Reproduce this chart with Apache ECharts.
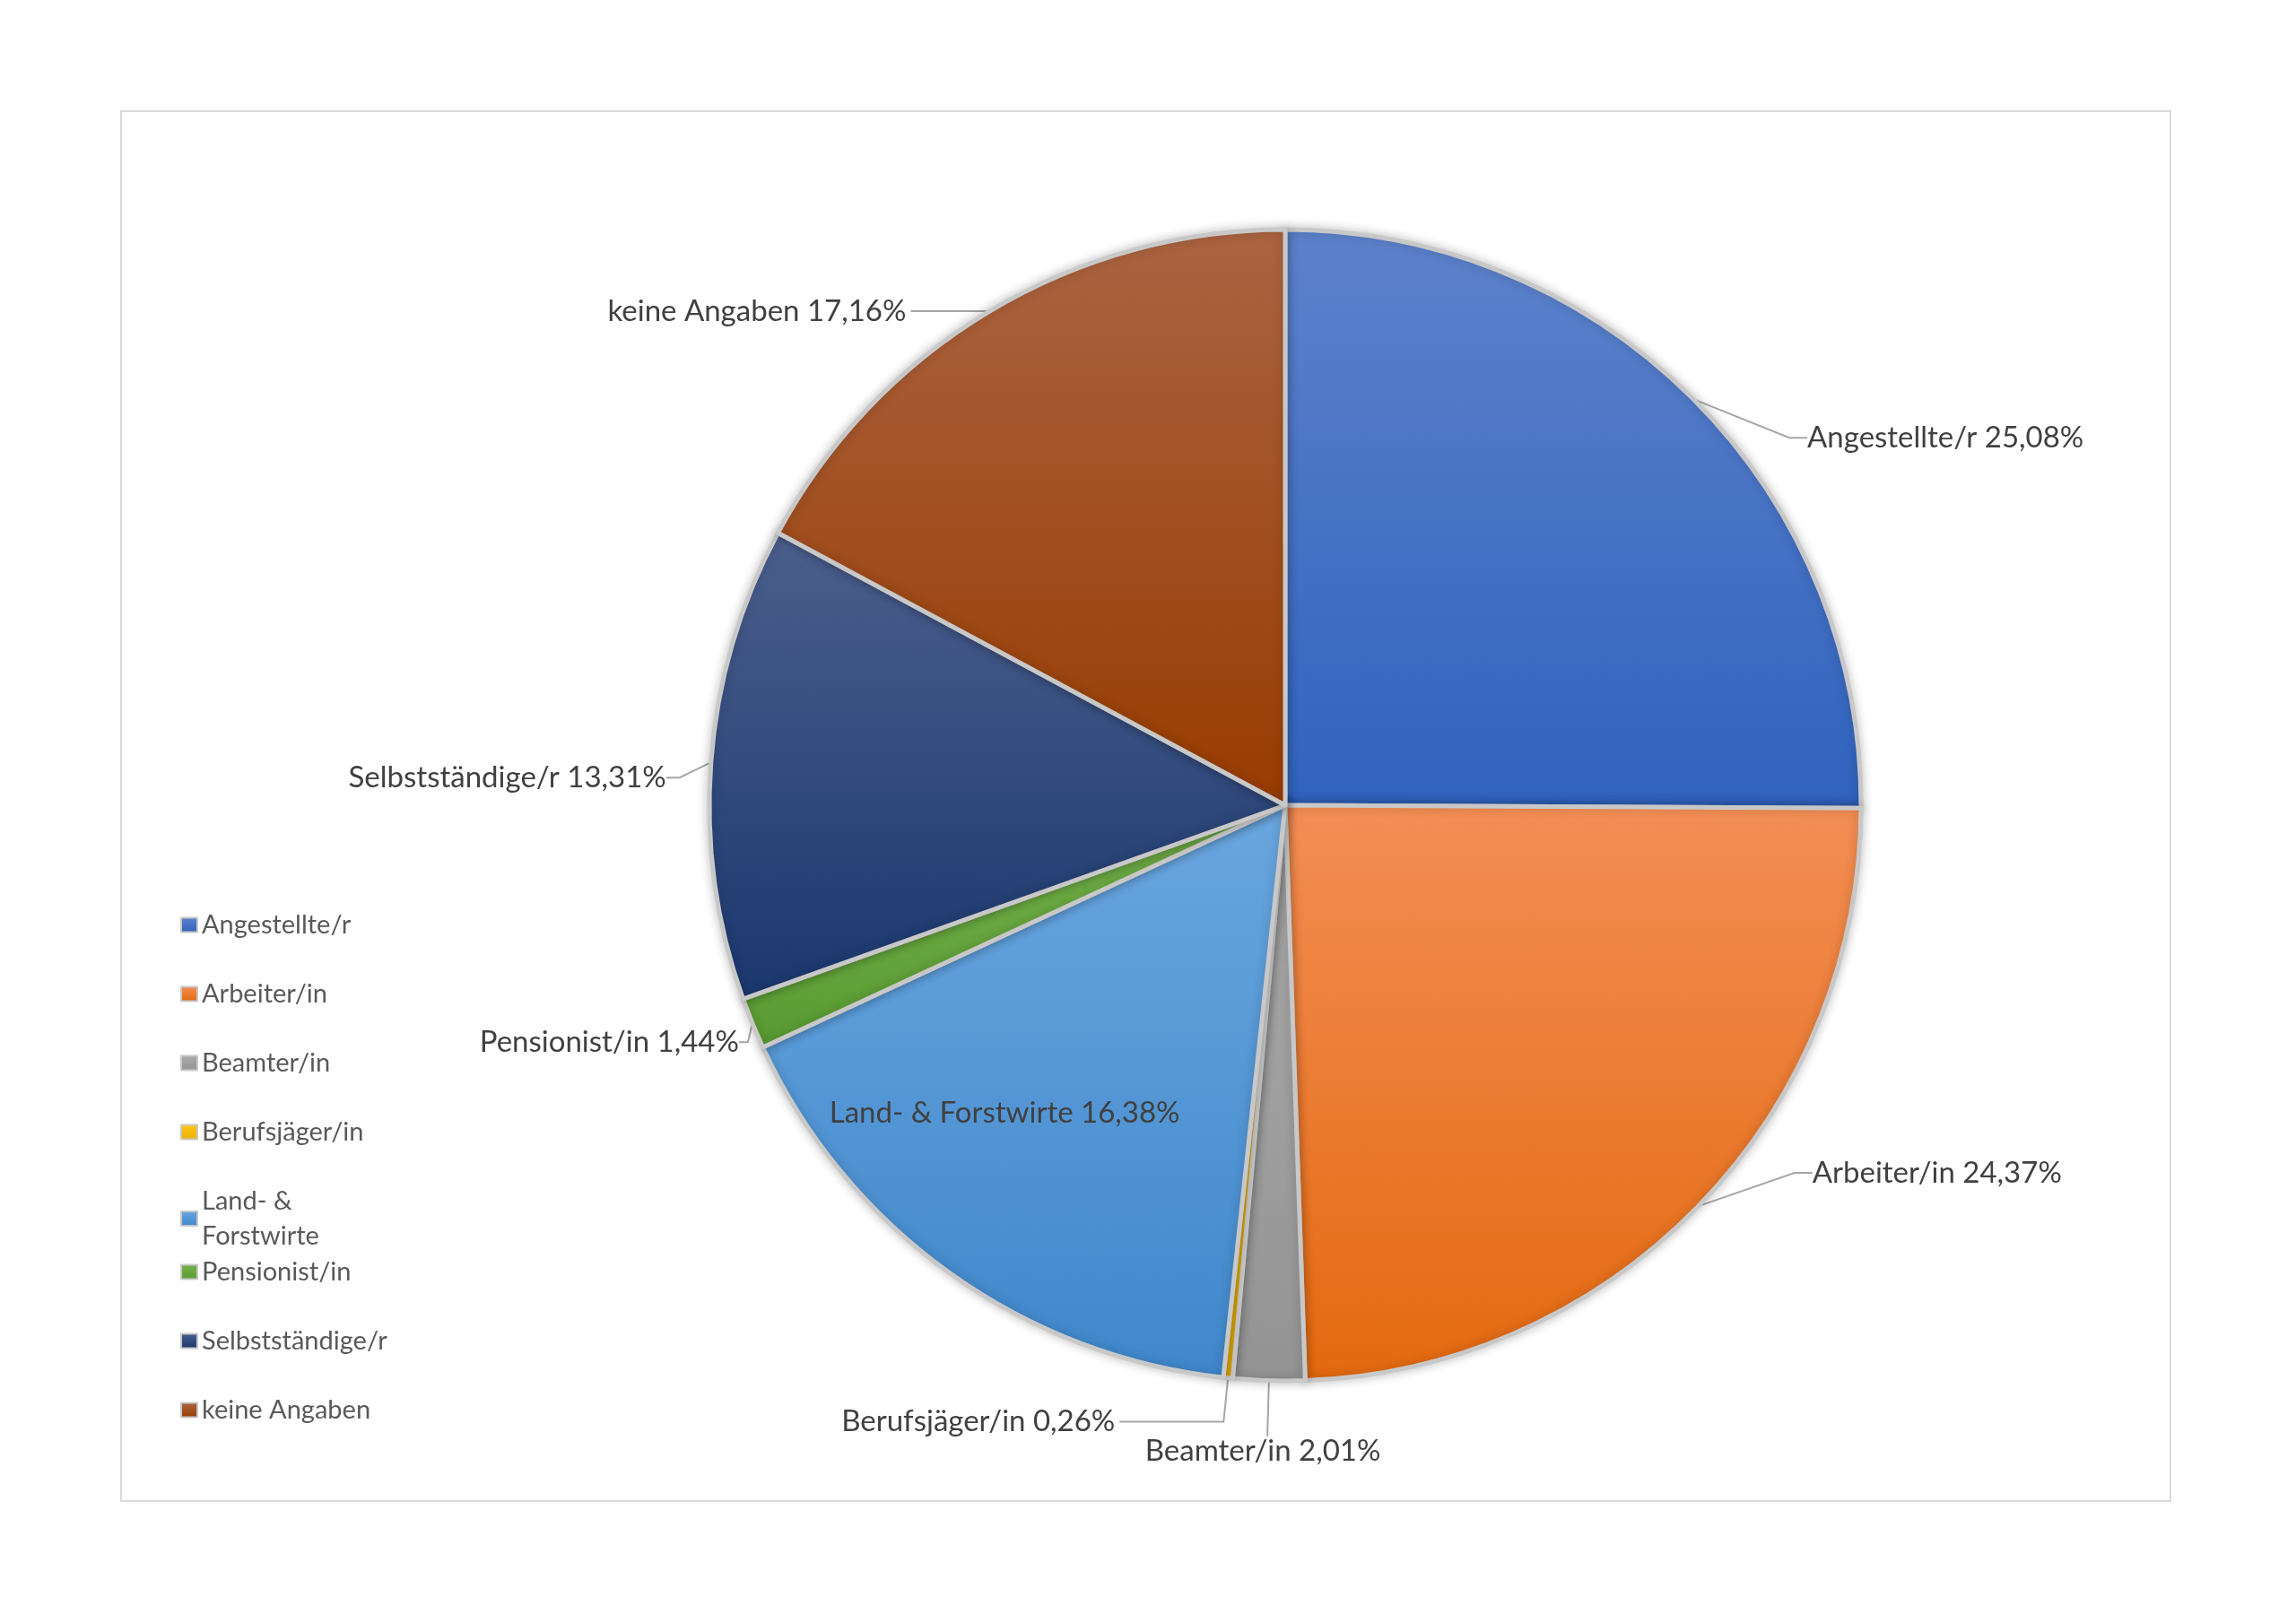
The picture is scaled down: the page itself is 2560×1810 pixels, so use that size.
<!DOCTYPE html>
<html>
<head>
<meta charset="utf-8">
<script src="https://cdn.jsdelivr.net/npm/echarts@6/dist/echarts.min.js"></script>
<style>html,body{margin:0;padding:0;background:#fff}#c{width:2560px;height:1810px}</style>
</head>
<body>
<div id="c"></div>
<script>
// ---- data ----
const categories = ['Angestellte/r', 'Arbeiter/in', 'Beamter/in', 'Berufsjäger/in', 'Land- & Forstwirte', 'Pensionist/in', 'Selbstständige/r', 'keine Angaben'];
const shares = [25.08, 24.37, 2.01, 0.26, 16.38, 1.44, 13.31, 17.16];

// ---- styles ----
const colorTop    = ['#5d82cb', '#f38e55', '#ababab', '#ffc61a', '#6aa6df', '#76b34c', '#4c5f8d', '#ab6442'];
const colorBottom = ['#2f62be', '#e4690f', '#939393', '#eab000', '#3f87cb', '#589a31', '#1a376e', '#983b00'];
const FONT = 'Lato, "Open Sans", sans-serif';

// label placement tweaks (leader line lengths and small offsets)
const labelPlace = {
  'Angestellte/r':      { len: 0,  len2: 20,  dx: 102, dy: 43 },
  'Arbeiter/in':        { len: 0,  len2: 20,  dx: 102, dy: -37 },
  'Beamter/in':         { len: 62, len2: 0,   align: 'center', valign: 'top' },
  'Berufsjäger/in':     { len: 49, len2: 116 },
  'Land- & Forstwirte': { inside: true, dx: -124, dy: 80 },
  'Pensionist/in':      { len: 0,  len2: 10,  dx: 0, dy: 21 },
  'Selbstständige/r':   { len: 0,  len2: 15,  dx: -30, dy: 17 },
  'keine Angaben':      { len: 0,  len2: 88 }
};

function fmt(v) { return v.toFixed(2).replace('.', ','); }
function grad(i) {
  return new echarts.graphic.LinearGradient(0, 0, 0, 1, [
    { offset: 0, color: colorTop[i] },
    { offset: 1, color: colorBottom[i] }
  ]);
}

const pieData = categories.map((name, i) => {
  const p = labelPlace[name];
  const item = { name: name, value: shares[i], itemStyle: { color: grad(i) } };
  if (p.inside) {
    item.label = { position: 'inside' };
    item.labelLine = { show: false };
  } else {
    item.labelLine = { length: p.len, length2: p.len2 };
  }
  return item;
});

const legendBase = {
  orient: 'vertical',
  left: 196,
  itemWidth: 18, itemHeight: 16, itemGap: 38,
  icon: 'rect',
  formatter: n => n.replace('& ', '&\n'),
  textStyle: { fontFamily: FONT, fontSize: 29, color: '#595959', lineHeight: 39 }
};

const chart = echarts.init(document.getElementById('c'), null, { renderer: 'canvas' });
chart.setOption({
  animation: false,
  backgroundColor: '#ffffff',
  graphic: [{
    type: 'rect', z: -10,
    shape: { x: 135, y: 124, width: 2285, height: 1550 },
    style: { fill: 'none', stroke: '#d9d9d9', lineWidth: 2 }
  }],
  legend: [
    Object.assign({}, legendBase, { top: 1007, data: categories.slice(0, 5) }),
    Object.assign({}, legendBase, { top: 1394, data: categories.slice(5) })
  ],
  series: [{
    type: 'pie',
    center: [1433, 898],
    radius: 642,
    startAngle: 90,
    clockwise: true,
    avoidLabelOverlap: false,
    emphasis: { disabled: true },
    itemStyle: {
      borderColor: '#c8c8c8', borderWidth: 5,
      shadowBlur: 12, shadowColor: 'rgba(0,0,0,0.22)'
    },
    label: {
      show: true,
      formatter: p => p.name + ' ' + fmt(p.value) + '%',
      fontFamily: FONT, fontSize: 33, color: '#404040',
      overflow: 'none', distanceToLabelLine: 5
    },
    labelLine: { show: true, smooth: false, lineStyle: { color: '#a6a6a6', width: 2 } },
    labelLayout: function (params) {
      const name = categories[params.dataIndex];
      const p = labelPlace[name] || {};
      const out = {};
      if (p.align) out.align = p.align;
      if (p.valign) out.verticalAlign = p.valign;
      if (p.dx != null || p.dy != null) {
        const r = params.labelRect;
        const al = params.align;
        let ax = al === 'right' ? r.x + r.width : (al === 'center' ? r.x + r.width / 2 : r.x);
        out.x = ax + (p.dx || 0);
        out.y = r.y + r.height / 2 + (p.dy || 0);
        out.align = al;
        out.verticalAlign = 'middle';
      }
      return out;
    },
    data: pieData
  }]
});
</script>
</body>
</html>
